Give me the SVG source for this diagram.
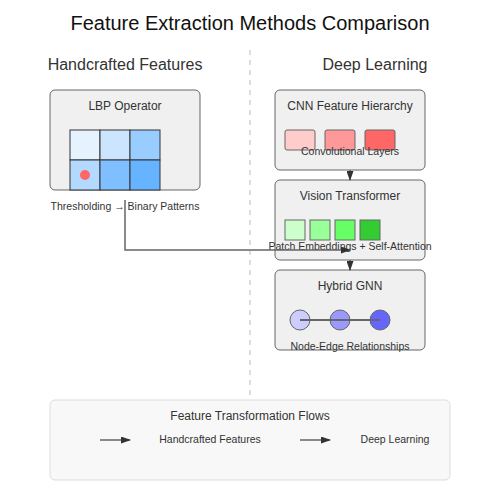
<svg xmlns="http://www.w3.org/2000/svg" width="500" height="500" viewBox="0 0 500 500">
<defs>
<marker id="arrow" markerWidth="10" markerHeight="7" refX="9" refY="3.5" orient="auto" markerUnits="userSpaceOnUse">
<polygon points="0 0, 10 3.5, 0 7" fill="#333"/>
</marker>
<style>
text{font-family:"Liberation Sans",Arial,sans-serif;fill:#333;text-anchor:middle}
.box{fill:#f0f0f0;stroke:#666;stroke-width:1}
.cell{stroke:#333;stroke-width:1}
.blk{stroke:#666;stroke-width:1}
.conn{stroke:#666;stroke-width:1.5;fill:none}
.h{font-size:16px}
.t{font-size:12px}
.s{font-size:10.5px}
</style>
</defs>
<rect width="500" height="500" fill="#fff"/>
<text x="250" y="30" font-size="20" style="fill:#111">Feature Extraction Methods Comparison</text>
<line x1="250" y1="50" x2="250" y2="395" stroke="#ddd" stroke-width="2" stroke-dasharray="5,5"/>
<text x="125" y="70" class="h">Handcrafted Features</text>
<text x="375" y="70" class="h">Deep Learning</text>

<g id="lbp">
<rect x="50" y="90" width="150" height="100" rx="5" class="box"/>
<text x="125" y="110" class="t">LBP Operator</text>
<rect x="70" y="130" width="30" height="30" fill="#e6f3ff" class="cell"/>
<rect x="100" y="130" width="30" height="30" fill="#cce5ff" class="cell"/>
<rect x="130" y="130" width="30" height="30" fill="#99ccff" class="cell"/>
<rect x="70" y="160" width="30" height="30" fill="#b3d9ff" class="cell"/>
<rect x="100" y="160" width="30" height="30" fill="#80bfff" class="cell"/>
<rect x="130" y="160" width="30" height="30" fill="#66b3ff" class="cell"/>
<circle cx="85" cy="175" r="5" fill="#ff6666"/>
<text x="125" y="210" class="s">Thresholding → Binary Patterns</text>
</g>

<g id="cnn">
<rect x="275" y="90" width="150" height="80" rx="5" class="box"/>
<text x="350" y="110" class="t">CNN Feature Hierarchy</text>
<rect x="285" y="130" width="30" height="20" rx="2" fill="#ffcccc" class="blk"/>
<rect x="325" y="130" width="30" height="20" rx="2" fill="#ff9999" class="blk"/>
<rect x="365" y="130" width="30" height="20" rx="2" fill="#ff6666" class="blk"/>
<text x="350" y="155" class="s">Convolutional Layers</text>
</g>

<g id="vit">
<rect x="275" y="180" width="150" height="80" rx="5" class="box"/>
<text x="350" y="200" class="t">Vision Transformer</text>
<rect x="285" y="220" width="20" height="20" fill="#ccffcc" class="blk"/>
<rect x="310" y="220" width="20" height="20" fill="#99ff99" class="blk"/>
<rect x="335" y="220" width="20" height="20" fill="#66ff66" class="blk"/>
<rect x="360" y="220" width="20" height="20" fill="#33cc33" class="blk"/>
<text x="350" y="250" class="s">Patch Embeddings + Self-Attention</text>
</g>

<g id="gnn">
<rect x="275" y="270" width="150" height="80" rx="5" class="box"/>
<text x="350" y="290" class="t">Hybrid GNN</text>
<circle cx="300" cy="320" r="10" fill="#ccccff" class="blk"/>
<circle cx="340" cy="320" r="10" fill="#9999ff" class="blk"/>
<circle cx="380" cy="320" r="10" fill="#6666ff" class="blk"/>
<line x1="300" y1="320" x2="380" y2="320" stroke="#666" stroke-width="2"/>
<text x="350" y="350" class="s">Node-Edge Relationships</text>
</g>

<g id="connectors">
<path d="M125 200 V250 H350" class="conn" marker-end="url(#arrow)"/>
<line x1="350" y1="170" x2="350" y2="180" class="conn" marker-end="url(#arrow)"/>
<line x1="350" y1="260" x2="350" y2="270" class="conn" marker-end="url(#arrow)"/>
</g>

<g id="legend">
<rect x="50" y="400" width="400" height="80" rx="5" fill="#f8f8f8" stroke="#ddd" stroke-width="1"/>
<text x="250" y="420" class="t">Feature Transformation Flows</text>
<line x1="100" y1="440" x2="130" y2="440" class="conn" marker-end="url(#arrow)"/>
<text x="210" y="443" class="s">Handcrafted Features</text>
<line x1="300" y1="440" x2="330" y2="440" class="conn" marker-end="url(#arrow)"/>
<text x="395" y="443" class="s">Deep Learning</text>
</g>
</svg>
